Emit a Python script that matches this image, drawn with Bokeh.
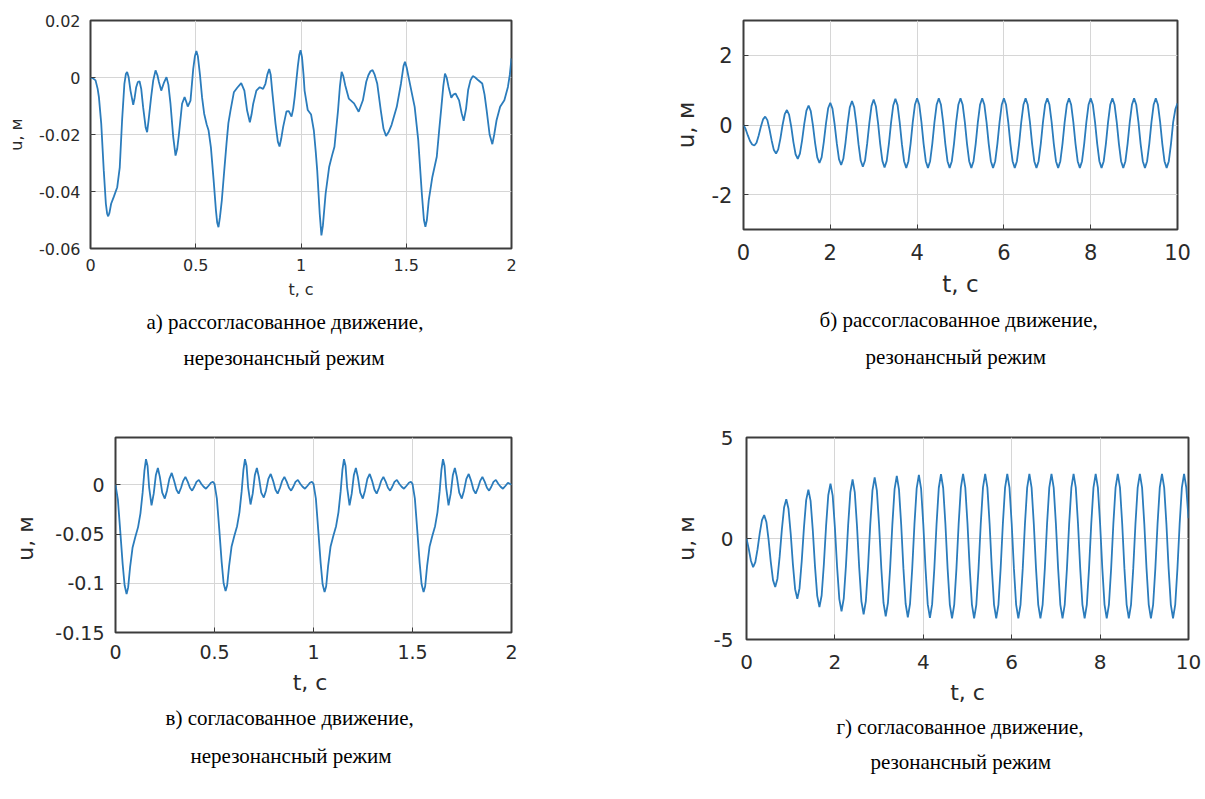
import numpy as np
from bokeh.plotting import figure
from bokeh.models import Range1d, FixedTicker, PrintfTickFormatter, Title
from bokeh.layouts import row, column
from bokeh.embed import file_html
from bokeh.resources import INLINE

# ---------------- data ----------------
# panel a: mismatched motion, non-resonant (t [s], u [m])
curve_a = [
    (0.000, 0.0000), (0.012, -0.0003), (0.024, -0.0010), (0.034, -0.0040), (0.040, -0.0069),
    (0.051, -0.0162), (0.063, -0.0326), (0.073, -0.0443), (0.079, -0.0478), (0.084, -0.0487),
    (0.090, -0.0475), (0.098, -0.0443), (0.111, -0.0418), (0.127, -0.0385), (0.139, -0.0315),
    (0.150, -0.0151), (0.161, -0.0022), (0.168, 0.0012), (0.174, 0.0019), (0.181, 0.0002),
    (0.190, -0.0046), (0.203, -0.0096), (0.210, -0.0070), (0.217, -0.0034), (0.225, -0.0016),
    (0.233, -0.0013), (0.241, -0.0040), (0.250, -0.0104), (0.262, -0.0175), (0.269, -0.0192),
    (0.276, -0.0150), (0.288, -0.0069), (0.298, -0.0010), (0.309, 0.0025), (0.318, 0.0008),
    (0.325, -0.0016), (0.336, -0.0046), (0.348, -0.0020), (0.361, 0.0001), (0.370, -0.0025),
    (0.380, -0.0092), (0.393, -0.0209), (0.404, -0.0274), (0.412, -0.0250), (0.420, -0.0200),
    (0.435, -0.0092), (0.447, -0.0069), (0.455, -0.0085), (0.462, -0.0102), (0.475, -0.0081),
    (0.488, 0.0030), (0.496, 0.0075), (0.503, 0.0093), (0.510, 0.0075), (0.520, 0.0010),
    (0.530, -0.0070), (0.540, -0.0127), (0.552, -0.0165), (0.561, -0.0186), (0.572, -0.0245),
    (0.585, -0.0361), (0.596, -0.0467), (0.602, -0.0510), (0.608, -0.0525), (0.615, -0.0490),
    (0.624, -0.0430), (0.635, -0.0330), (0.646, -0.0233), (0.655, -0.0160), (0.665, -0.0116),
    (0.681, -0.0052), (0.697, -0.0036), (0.716, -0.0020), (0.731, -0.0046), (0.744, -0.0116),
    (0.757, -0.0157), (0.765, -0.0130), (0.773, -0.0092), (0.788, -0.0046), (0.804, -0.0034),
    (0.820, -0.0040), (0.831, -0.0022), (0.840, 0.0010), (0.849, 0.0030), (0.856, 0.0010),
    (0.863, -0.0046), (0.879, -0.0163), (0.890, -0.0225), (0.898, -0.0242), (0.906, -0.0215),
    (0.915, -0.0174), (0.931, -0.0119), (0.942, -0.0118), (0.955, -0.0137), (0.963, -0.0110),
    (0.970, -0.0069), (0.978, -0.0010), (0.985, 0.0040), (0.992, 0.0080), (0.998, 0.0096),
    (1.005, 0.0070), (1.012, 0.0010), (1.017, -0.0046), (1.032, -0.0114), (1.048, -0.0130),
    (1.061, -0.0186), (1.070, -0.0260), (1.077, -0.0326), (1.089, -0.0479), (1.097, -0.0554),
    (1.104, -0.0520), (1.117, -0.0407), (1.134, -0.0313), (1.147, -0.0275), (1.159, -0.0243),
    (1.176, -0.0115), (1.185, -0.0030), (1.193, 0.0020), (1.201, 0.0005), (1.210, -0.0027),
    (1.227, -0.0074), (1.252, -0.0091), (1.274, -0.0120), (1.294, -0.0080), (1.310, -0.0015),
    (1.320, 0.0008), (1.330, 0.0022), (1.340, 0.0026), (1.350, 0.0010), (1.362, -0.0021),
    (1.379, -0.0115), (1.392, -0.0180), (1.404, -0.0205), (1.417, -0.0190), (1.430, -0.0167),
    (1.455, -0.0103), (1.475, -0.0021), (1.487, 0.0040), (1.494, 0.0055), (1.502, 0.0035),
    (1.514, -0.0009), (1.528, -0.0060), (1.540, -0.0103), (1.557, -0.0220), (1.574, -0.0407),
    (1.584, -0.0500), (1.591, -0.0524), (1.598, -0.0500), (1.607, -0.0430), (1.624, -0.0349),
    (1.645, -0.0278), (1.657, -0.0180), (1.667, -0.0103), (1.676, -0.0030), (1.684, 0.0014),
    (1.692, 0.0000), (1.701, -0.0033), (1.714, -0.0071), (1.724, -0.0060), (1.734, -0.0056),
    (1.751, -0.0080), (1.763, -0.0125), (1.773, -0.0152), (1.784, -0.0110), (1.794, -0.0044),
    (1.805, -0.0010), (1.816, 0.0005), (1.828, 0.0000), (1.841, -0.0009), (1.861, -0.0021),
    (1.872, -0.0060), (1.882, -0.0115), (1.896, -0.0200), (1.909, -0.0234), (1.918, -0.0200),
    (1.929, -0.0150), (1.946, -0.0103), (1.966, -0.0080), (1.983, -0.0033), (1.992, 0.0010),
    (2.000, 0.0067),
]

# panel b: mismatched motion, resonant; u sampled every 0.05 s from 0 to 10 s
u_b = [
    0.00, -0.12, -0.30, -0.46, -0.56, -0.59,
    -0.51, -0.30, -0.05, 0.16, 0.24,
    0.14, -0.13, -0.45, -0.72, -0.82,
    -0.70, -0.39, 0.00, 0.31, 0.43,
    0.30, -0.05, -0.49, -0.84, -0.97,
    -0.82, -0.44, 0.03, 0.41, 0.56,
    0.40, -0.01, -0.52, -0.93, -1.09,
    -0.93, -0.49, 0.04, 0.48, 0.64,
    0.47, 0.02, -0.53, -0.98, -1.15,
    -0.97, -0.51, 0.05, 0.51, 0.69,
    0.51, 0.04, -0.55, -1.02, -1.20,
    -1.02, -0.53, 0.06, 0.55, 0.73,
    0.54, 0.06, -0.55, -1.03, -1.22,
    -1.03, -0.54, 0.07, 0.56, 0.75,
    0.57, 0.07, -0.55, -1.04, -1.23,
    -1.04, -0.54, 0.08, 0.58, 0.77,
    0.58, 0.08, -0.54, -1.04, -1.23, -1.04, -0.54, 0.08, 0.58, 0.77,
    0.58, 0.08, -0.54, -1.04, -1.23, -1.04, -0.54, 0.08, 0.58, 0.77,
    0.58, 0.08, -0.54, -1.04, -1.23, -1.04, -0.54, 0.08, 0.58, 0.77,
    0.58, 0.08, -0.54, -1.04, -1.23, -1.04, -0.54, 0.08, 0.58, 0.77,
    0.58, 0.08, -0.54, -1.04, -1.23, -1.04, -0.54, 0.08, 0.58, 0.77,
    0.58, 0.08, -0.54, -1.04, -1.23, -1.04, -0.54, 0.08, 0.58, 0.77,
    0.58, 0.08, -0.54, -1.04, -1.23, -1.04, -0.54, 0.08, 0.58, 0.77,
    0.58, 0.08, -0.54, -1.04, -1.23, -1.04, -0.54, 0.08, 0.58, 0.77,
    0.58, 0.08, -0.54, -1.04, -1.23, -1.04, -0.54, 0.08, 0.58, 0.77,
    0.58, 0.08, -0.54, -1.04, -1.23, -1.04, -0.54, 0.08, 0.58, 0.77,
    0.58, 0.08, -0.54, -1.04, -1.23, -1.04, -0.54, 0.08, 0.58, 0.77,
    0.58, 0.08, -0.54, -1.04, -1.23, -1.04, -0.54, 0.08, 0.45, 0.62,
]

# panel c: matched motion, non-resonant (t [s], u [m])
curve_c = [
    (0.000, 0.000), (0.012, -0.015), (0.024, -0.047), (0.036, -0.080), (0.046, -0.102),
    (0.056, -0.111), (0.064, -0.104), (0.074, -0.083), (0.086, -0.064), (0.100, -0.053),
    (0.114, -0.043), (0.126, -0.029), (0.137, -0.008), (0.146, 0.014), (0.154, 0.026),
    (0.162, 0.019), (0.170, -0.003), (0.182, -0.021), (0.193, -0.009), (0.204, 0.010),
    (0.214, 0.017), (0.224, 0.008), (0.236, -0.008), (0.249, -0.014), (0.260, -0.006),
    (0.272, 0.006), (0.284, 0.012), (0.296, 0.004), (0.308, -0.005), (0.319, -0.009),
    (0.331, -0.003), (0.342, 0.004), (0.353, 0.008), (0.365, 0.003), (0.376, -0.003),
    (0.387, -0.006), (0.398, -0.002), (0.409, 0.003), (0.421, 0.005), (0.433, 0.001),
    (0.445, -0.002), (0.457, -0.004), (0.470, -0.001), (0.482, 0.002), (0.492, 0.003),
    (0.500, 0.001), (0.512, -0.014), (0.524, -0.045), (0.536, -0.078), (0.546, -0.100),
    (0.556, -0.108), (0.564, -0.102), (0.574, -0.082), (0.586, -0.063), (0.600, -0.052),
    (0.614, -0.042), (0.626, -0.028), (0.637, -0.007), (0.646, 0.015), (0.654, 0.026),
    (0.662, 0.019), (0.670, -0.003), (0.682, -0.020), (0.693, -0.009), (0.704, 0.010),
    (0.714, 0.017), (0.724, 0.008), (0.736, -0.008), (0.749, -0.013), (0.760, -0.006),
    (0.772, 0.006), (0.784, 0.011), (0.796, 0.004), (0.808, -0.005), (0.819, -0.009),
    (0.831, -0.003), (0.842, 0.004), (0.853, 0.008), (0.865, 0.003), (0.876, -0.003),
    (0.887, -0.006), (0.898, -0.002), (0.909, 0.003), (0.921, 0.005), (0.933, 0.001),
    (0.945, -0.002), (0.957, -0.004), (0.970, -0.001), (0.982, 0.002), (0.992, 0.003),
    (1.000, 0.001), (1.012, -0.014), (1.024, -0.046), (1.036, -0.079), (1.046, -0.101),
    (1.056, -0.109), (1.064, -0.103), (1.074, -0.082), (1.086, -0.063), (1.100, -0.052),
    (1.114, -0.042), (1.126, -0.028), (1.137, -0.007), (1.146, 0.015), (1.154, 0.026),
    (1.162, 0.019), (1.170, -0.003), (1.182, -0.021), (1.193, -0.009), (1.204, 0.010),
    (1.214, 0.017), (1.224, 0.008), (1.236, -0.008), (1.249, -0.014), (1.260, -0.006),
    (1.272, 0.006), (1.284, 0.011), (1.296, 0.004), (1.308, -0.005), (1.319, -0.009),
    (1.331, -0.003), (1.342, 0.004), (1.353, 0.008), (1.365, 0.003), (1.376, -0.003),
    (1.387, -0.006), (1.398, -0.002), (1.409, 0.003), (1.421, 0.005), (1.433, 0.001),
    (1.445, -0.002), (1.457, -0.004), (1.470, -0.001), (1.482, 0.002), (1.492, 0.003),
    (1.500, 0.001), (1.512, -0.014), (1.524, -0.046), (1.536, -0.079), (1.546, -0.101),
    (1.556, -0.109), (1.564, -0.103), (1.574, -0.082), (1.586, -0.063), (1.600, -0.052),
    (1.614, -0.042), (1.626, -0.028), (1.637, -0.007), (1.646, 0.015), (1.654, 0.026),
    (1.662, 0.019), (1.670, -0.003), (1.682, -0.021), (1.693, -0.009), (1.704, 0.010),
    (1.714, 0.017), (1.724, 0.008), (1.736, -0.008), (1.749, -0.014), (1.760, -0.006),
    (1.772, 0.006), (1.784, 0.011), (1.796, 0.004), (1.808, -0.005), (1.819, -0.009),
    (1.831, -0.003), (1.842, 0.004), (1.853, 0.008), (1.865, 0.003), (1.876, -0.003),
    (1.887, -0.006), (1.898, -0.002), (1.909, 0.003), (1.921, 0.005), (1.933, 0.001),
    (1.945, -0.002), (1.957, -0.004), (1.970, -0.001), (1.982, 0.002), (2.000, 0.000),
]

# panel d: matched motion, resonant; u sampled every 0.05 s from 0 to 10 s
u_d = [
    0.00, -0.50, -1.10, -1.42,
    -1.17, -0.53, 0.27, 0.91, 1.16,
    0.82, -0.07, -1.17, -2.06, -2.40,
    -1.99, -0.90, 0.44, 1.53, 1.94,
    1.47, 0.24, -1.28, -2.51, -2.98,
    -2.46, -1.11, 0.55, 1.90, 2.42,
    1.86, 0.41, -1.39, -2.84, -3.40,
    -2.82, -1.29, 0.61, 2.14, 2.72,
    2.12, 0.54, -1.42, -3.00, -3.60,
    -2.98, -1.35, 0.67, 2.30, 2.92,
    2.28, 0.62, -1.45, -3.11, -3.75,
    -3.10, -1.41, 0.69, 2.38, 3.03,
    2.37, 0.65, -1.47, -3.19, -3.85,
    -3.19, -1.45, 0.70, 2.44, 3.10,
    2.43, 0.68, -1.48, -3.23, -3.90,
    -3.23, -1.46, 0.71, 2.48, 3.15,
    2.47, 0.70, -1.48, -3.25, -3.93,
    -3.25, -1.47, 0.72, 2.50, 3.18,
    2.50, 0.72, -1.49, -3.27, -3.95,
    -3.27, -1.48, 0.73, 2.52, 3.20,
    2.52, 0.73, -1.48, -3.27, -3.95, -3.27, -1.48, 0.73, 2.52, 3.20,
    2.52, 0.73, -1.48, -3.27, -3.95, -3.27, -1.48, 0.73, 2.52, 3.20,
    2.52, 0.73, -1.48, -3.27, -3.95, -3.27, -1.48, 0.73, 2.52, 3.20,
    2.52, 0.73, -1.48, -3.27, -3.95, -3.27, -1.48, 0.73, 2.52, 3.20,
    2.52, 0.73, -1.48, -3.27, -3.95, -3.27, -1.48, 0.73, 2.52, 3.20,
    2.52, 0.73, -1.48, -3.27, -3.95, -3.27, -1.48, 0.73, 2.52, 3.20,
    2.52, 0.73, -1.48, -3.27, -3.95, -3.27, -1.48, 0.73, 2.52, 3.20,
    2.52, 0.73, -1.48, -3.27, -3.95, -3.27, -1.48, 0.73, 2.52, 3.20,
    2.52, 0.73, -1.48, -3.27, -3.95, -3.27, -1.48, 0.73, 2.52, 3.20,
    2.52, 0.73, -1.48, -3.27, -3.95, -3.27, -1.48, 0.73, 2.52, 3.20,
    2.52, 1.00,
]

# axis ticks
xticks_a = [0, 0.5, 1, 1.5, 2]
yticks_a = [-0.06, -0.04, -0.02, 0, 0.02]
xticks_b = [0, 2, 4, 6, 8, 10]
yticks_b = [-2, 0, 2]
xticks_c = [0, 0.5, 1, 1.5, 2]
yticks_c = [-0.15, -0.1, -0.05, 0]
xticks_d = [0, 2, 4, 6, 8, 10]
yticks_d = [-5, 0, 5]

captions_a = ["а) рассогласованное движение,", "нерезонансный режим"]
captions_b = ["б) рассогласованное движение,", "резонансный режим"]
captions_c = ["в) согласованное движение,", "нерезонансный режим"]
captions_d = ["г) согласованное движение,", "резонансный режим"]

# ---------------- drawing ----------------
LINE_COLOR = "#2b7cbc"
AX_COLOR = "#3c3c3c"
TXT_COLOR = "#2a2a2a"


def panel(t, u, xr, yr, xticks, yticks, fw, fh, borders, tick_fs, lab_fs,
          xlabel, ylabel, tick_stand, xlab_stand, ylab_stand, captions, cap_offs, cap_stand):
    bl, br, bt, bb = borders
    p = figure(frame_width=fw, frame_height=fh,
               x_range=Range1d(*xr), y_range=Range1d(*yr),
               output_backend="svg", toolbar_location=None,
               min_border_left=bl, min_border_right=br,
               min_border_top=bt, min_border_bottom=bb,
               background_fill_color="white", border_fill_color="white")
    p.line(t, u, line_color=LINE_COLOR, line_width=1.8)

    p.xaxis.ticker = FixedTicker(ticks=xticks)
    p.yaxis.ticker = FixedTicker(ticks=yticks)
    p.xaxis.formatter = PrintfTickFormatter(format="%g")
    p.yaxis.formatter = PrintfTickFormatter(format="%g")
    p.xaxis.axis_label = xlabel
    p.yaxis.axis_label = ylabel
    for ax in (p.xaxis[0], p.yaxis[0]):
        ax.axis_line_color = None
        ax.major_tick_in = 5
        ax.major_tick_out = 0
        ax.major_tick_line_color = AX_COLOR
        ax.minor_tick_line_color = None
        ax.major_label_text_font = "DejaVu Sans"
        ax.major_label_text_font_size = f"{tick_fs}px"
        ax.major_label_text_color = TXT_COLOR
        ax.axis_label_text_font = "DejaVu Sans"
        ax.axis_label_text_font_style = "normal"
        ax.axis_label_text_font_size = f"{lab_fs}px"
        ax.axis_label_text_color = TXT_COLOR
    p.xaxis.major_label_standoff = tick_stand[0]
    p.yaxis.major_label_standoff = tick_stand[1]
    p.xaxis.axis_label_standoff = xlab_stand
    p.yaxis.axis_label_standoff = ylab_stand

    p.grid.grid_line_color = "#d6d6d6"
    p.grid.grid_line_width = 1
    p.outline_line_color = AX_COLOR
    p.outline_line_width = 2
    p.outline_line_alpha = 1

    for text, off, st in zip(captions, cap_offs, cap_stand):
        p.add_layout(Title(text=text, align="left", offset=off, standoff=st,
                           vertical_align="bottom",
                           text_font="Liberation Serif", text_font_size="21px",
                           text_font_style="normal", text_color="black"), "below")
    return p


t_a = [pt[0] for pt in curve_a]
v_a = [pt[1] for pt in curve_a]
t_c = [pt[0] for pt in curve_c]
v_c = [pt[1] for pt in curve_c]
t_b = np.linspace(0, 10, len(u_b))
t_d = np.linspace(0, 10, len(u_d))

pa = panel(t_a, v_a, (0, 2), (-0.06, 0.02), xticks_a, yticks_a, 421, 228,
           (90, 89, 20, 152), 16, 16, "t, с", "u, м", (10, 10), 6, 10,
           captions_a, [56, 93], [12, 8])
pb = panel(t_b, u_b, (0, 10), (-3, 3), xticks_b, yticks_b, 434, 209,
           (143, 28, 19, 172), 21, 23, "t, с", "u, м", (14, 11), 8, 10,
           captions_b, [76, 122], [13, 8])
pc = panel(t_c, v_c, (0, 2), (-0.15, 0.048), xticks_c, yticks_c, 396, 195,
           (115, 89, 37, 167), 19, 22, "t,  с", "u,  м", (12, 11), 8, 14,
           captions_c, [50, 75], [13, 11])
pd = panel(t_d, u_d, (0, 10), (-5, 5), xticks_d, yticks_d, 442, 202,
           (146, 17, 29, 168), 20, 22, "t, с", "u, м", (15, 13), 8, 12,
           captions_d, [90, 124], [10, 9])

layout = column(row(pa, pb), row(pc, pd))

with open("out.html", "w") as f:
    f.write(file_html(layout, INLINE))
